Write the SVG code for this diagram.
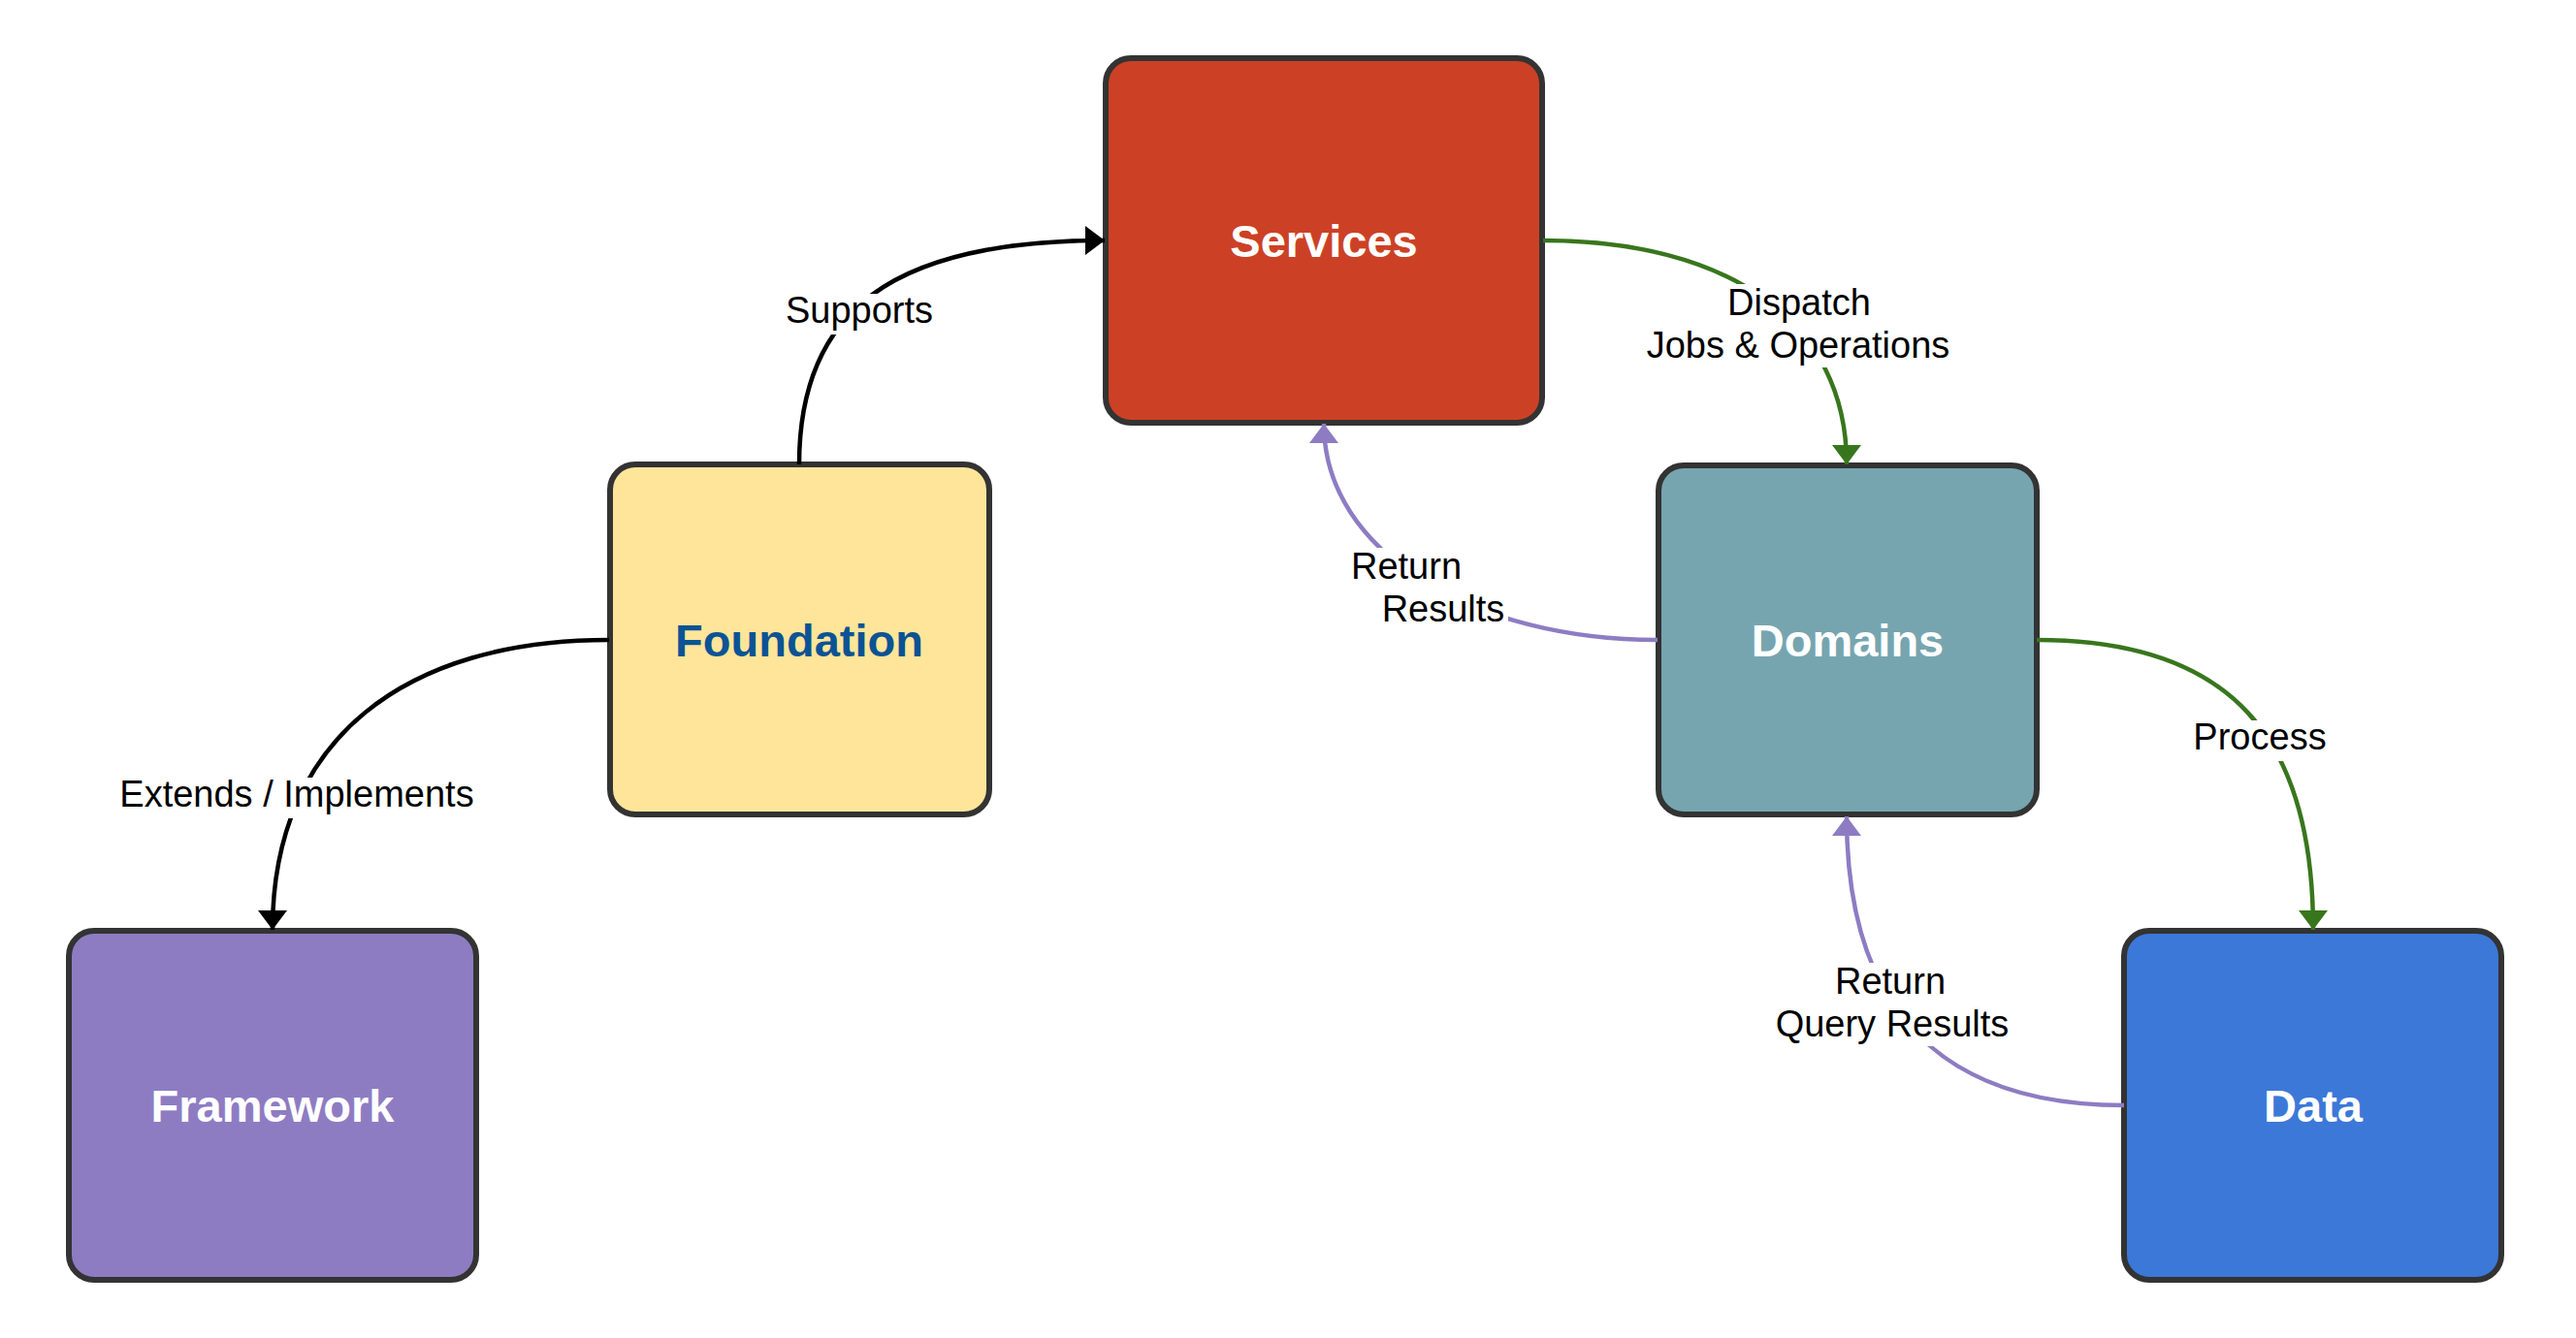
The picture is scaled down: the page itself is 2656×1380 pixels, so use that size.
<svg xmlns="http://www.w3.org/2000/svg" width="2656" height="1380" viewBox="0 0 2656 1380">
<defs>
<style>
.node{stroke:#333333;stroke-width:6}
.ntxt{font-family:"Liberation Sans",Arial,sans-serif;font-weight:bold;font-size:47px;text-anchor:middle;fill:#ffffff}
.lbl{font-family:"Liberation Sans",Arial,sans-serif;font-size:38px;text-anchor:middle;fill:#000000}
.lbg{fill:#ffffff}
.c{fill:none;stroke-width:4.5}
.k{stroke:#000000}
.g{stroke:#38761d}
.p{stroke:#8e7cc3}
</style>
<marker id="ak" markerUnits="userSpaceOnUse" markerWidth="22" markerHeight="32" refX="20" refY="15" orient="auto"><path d="M0,0 L20,15 L0,30 z" fill="#000000"/></marker>
<marker id="ag" markerUnits="userSpaceOnUse" markerWidth="22" markerHeight="32" refX="20" refY="15" orient="auto"><path d="M0,0 L20,15 L0,30 z" fill="#38761d"/></marker>
<marker id="ap" markerUnits="userSpaceOnUse" markerWidth="22" markerHeight="32" refX="20" refY="15" orient="auto"><path d="M0,0 L20,15 L0,30 z" fill="#8e7cc3"/></marker>
</defs>
<rect width="2656" height="1380" fill="#ffffff"/>
<g id="services"><rect class="node" x="1140" y="60" width="450" height="376" rx="26" fill="#cc4125"/><text class="ntxt" x="1365" y="265">Services</text></g>
<g id="foundation"><rect class="node" x="629" y="479" width="391" height="361" rx="26" fill="#ffe599"/><text class="ntxt" x="824" y="677" style="fill:#0b5394">Foundation</text></g>
<g id="domains"><rect class="node" x="1710" y="480" width="390" height="360" rx="26" fill="#76a5af"/><text class="ntxt" x="1905" y="677">Domains</text></g>
<g id="framework"><rect class="node" x="71" y="960" width="420" height="360" rx="26" fill="#8e7cc3"/><text class="ntxt" x="281" y="1157">Framework</text></g>
<g id="data"><rect class="node" x="2190" y="960" width="389" height="360" rx="26" fill="#3c78d8"/><text class="ntxt" x="2385" y="1157">Data</text></g>
<g id="connectors">
<path class="c k" d="M 824 479 C 824 320, 920 248, 1139 248" marker-end="url(#ak)"/>
<path class="c g" d="M 1591 248 C 1780 248, 1904 330, 1904 479" marker-end="url(#ag)"/>
<path class="c p" d="M 1709 660 C 1520 660, 1365 570, 1365 437" marker-end="url(#ap)"/>
<path class="c g" d="M 2100 660 C 2300 660, 2385 760, 2385 959" marker-end="url(#ag)"/>
<path class="c p" d="M 2190 1140 C 2000 1140, 1904 1040, 1904 842" marker-end="url(#ap)"/>
<path class="c k" d="M 628 660 C 420 660, 281 760, 281 959" marker-end="url(#ak)"/>
<rect class="lbg" x="805" y="303" width="162" height="42"/>
<text class="lbl" x="886" y="333">Supports</text>
<rect class="lbg" x="1693" y="293" width="322" height="86"/>
<text class="lbl" x="1855" y="325">Dispatch</text>
<text class="lbl" x="1854" y="369">Jobs &amp; Operations</text>
<rect class="lbg" x="1390" y="565" width="165" height="86"/>
<text class="lbl" x="1450" y="597">Return</text>
<text class="lbl" x="1488" y="641">Results</text>
<rect class="lbg" x="2258" y="743" width="145" height="42"/>
<text class="lbl" x="2330" y="773">Process</text>
<rect class="lbg" x="1825" y="993" width="252" height="86"/>
<text class="lbl" x="1949" y="1025">Return</text>
<text class="lbl" x="1951" y="1069">Query Results</text>
<rect class="lbg" x="118" y="802" width="377" height="42"/>
<text class="lbl" x="306" y="832">Extends / Implements</text>
</g>
</svg>
